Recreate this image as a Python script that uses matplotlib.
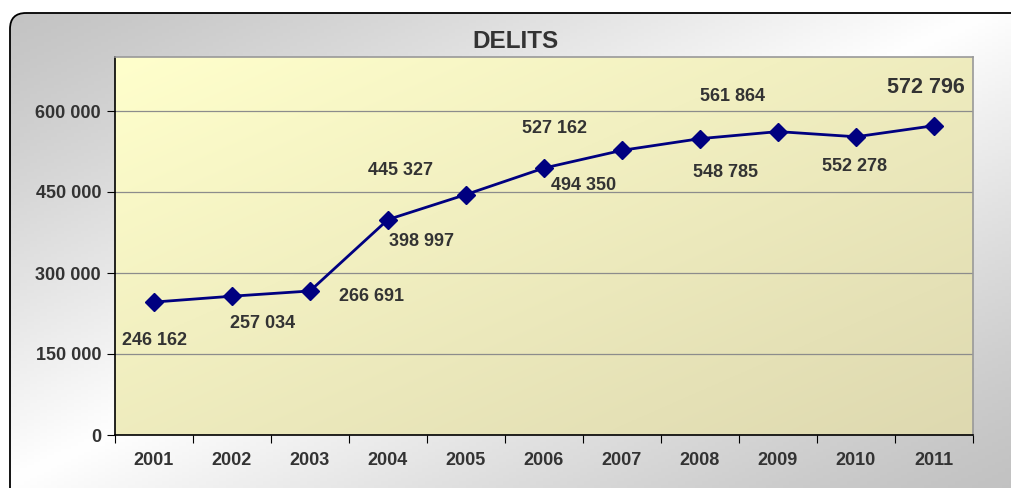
import numpy as np
import matplotlib.pyplot as plt
from matplotlib.patches import FancyBboxPatch
from matplotlib.ticker import FuncFormatter

years = ['2001', '2002', '2003', '2004', '2005', '2006', '2007', '2008', '2009', '2010', '2011']
delits = [246162, 257034, 266691, 398997, 445327, 494350, 527162, 548785, 561864, 552278, 572796]
label_offsets = [(1, -38), (31, -27), (62, -6), (34, -22), (-65, 24), (40, -17),
                 (-67, 22), (26, -34), (-45, 35), (-1, -30), (-8, 38)]

W, H = 1012, 488
txt = '#333333'
plt.rcParams['font.family'] = ['Liberation Sans', 'DejaVu Sans']

fig = plt.figure(figsize=(W / 100, H / 100), dpi=100)

# outer rounded frame with diagonal grey-white-grey gradient
bg = fig.add_axes([0, 0, 1, 1])
bg.set_xlim(0, W)
bg.set_ylim(H, 0)
bg.axis('off')
gx, gy = np.meshgrid(np.linspace(0, 1, 300), np.linspace(0, 1, 150))
t = (gx + gy) / 2
g = 0.76 + 0.24 * (1 - np.abs(t - 0.5) * 2) ** 1.2
img = bg.imshow(np.dstack([g, g, g]), extent=[0, W, H, 0], aspect='auto', zorder=0)
frame = FancyBboxPatch((10, 13), 1040, 520, boxstyle='round,pad=0,rounding_size=16',
                       fc='none', ec='black', lw=1.3, zorder=2)
bg.add_patch(frame)
img.set_clip_path(frame)

ax = fig.add_axes([115 / W, 1 - 435 / H, (973 - 115) / W, (435 - 57) / H])
x = np.arange(len(years))

# plot area gradient, light yellow top-left to khaki bottom-right
c0 = np.array([1.0, 1.0, 0.80])
c1 = np.array([0.87, 0.85, 0.69])
tt = ((gx + gy) / 2)[..., None]
ax.imshow(c0 * (1 - tt) + c1 * tt, extent=[0, 1, 0, 1], transform=ax.transAxes,
          aspect='auto', zorder=0)

ax.set_xlim(-0.5, len(years) - 0.5)
ax.set_ylim(0, 700000)
ax.set_yticks(range(0, 700000, 150000))
ax.yaxis.set_major_formatter(FuncFormatter(lambda v, p: f'{int(v):,}'.replace(',', ' ')))
ax.grid(axis='y', color='#8c8c8c', lw=0.9, zorder=1)

ax.plot(x, delits, color='#000080', lw=2, marker='D', ms=9, zorder=3)

for i, v in enumerate(delits):
    s = f'{v:,}'.replace(',', ' ')
    size = 15.5 if i == len(delits) - 1 else 13
    ax.annotate(s, (i, v), xytext=label_offsets[i], textcoords='offset pixels',
                ha='center', va='center', fontsize=size, fontweight='bold', color=txt, zorder=4)

ax.set_xticks(np.arange(-0.5, len(years), 1))
ax.set_xticklabels([])
ax.set_xticks(x, minor=True)
ax.set_xticklabels(years, minor=True)
ax.tick_params(axis='x', which='minor', length=0, pad=12)
ax.tick_params(axis='x', which='major', length=6, color='black', direction='out')
ax.tick_params(axis='y', length=6, color='black', pad=4)
for lab in ax.get_xticklabels(minor=True) + ax.get_yticklabels():
    lab.set_fontsize(13)
    lab.set_fontweight('bold')
    lab.set_color(txt)

ax.spines['left'].set_color('black')
ax.spines['bottom'].set_color('black')
ax.spines['top'].set_color('#999999')
ax.spines['right'].set_color('#999999')
for s in ax.spines.values():
    s.set_linewidth(1.2)

fig.text(516 / W, 1 - 42 / H, 'DELITS', ha='center', va='center', fontsize=17.5,
         fontweight='bold', color=txt)

fig.savefig('out.png', dpi=100)
